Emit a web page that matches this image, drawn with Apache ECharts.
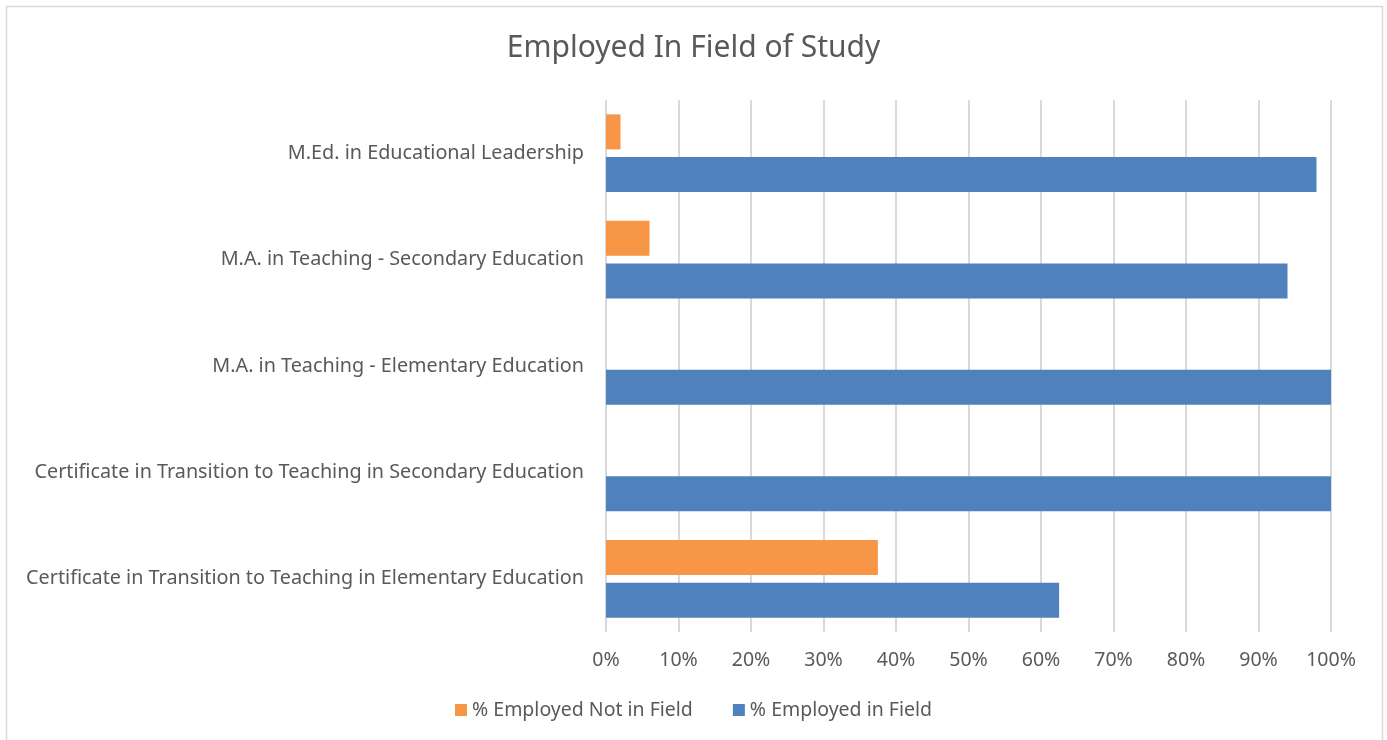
<!DOCTYPE html>
<html><head><meta charset="utf-8">
<script src="https://cdn.jsdelivr.net/npm/echarts@6/dist/echarts.min.js"></script>
<style>html,body{margin:0;padding:0;background:#fff}#c{width:1387px;height:740px}</style>
</head><body><div id="c"></div>
<script>
const categories = [
  'Certificate in Transition to Teaching in Elementary Education',
  'Certificate in Transition to Teaching in Secondary Education',
  'M.A. in Teaching - Elementary Education',
  'M.A. in Teaching - Secondary Education',
  'M.Ed. in Educational Leadership'
];
const employedInField = [62.5, 100, 100, 94, 98];
const employedNotInField = [37.5, 0, 0, 6, 2];
const seriesNames = ['% Employed Not in Field', '% Employed in Field'];

const font = 'Noto Sans';
const txt = '#595959';
const chart = echarts.init(document.getElementById('c'));
chart.setOption({
  animation: false,
  title: { text: 'Employed In Field of Study', left: 'center', top: 28,
    textStyle: { fontFamily: font, fontSize: 30, fontWeight: 'normal', color: txt } },
  graphic: [{ type: 'rect', shape: { x: 6.5, y: 6.5, width: 1376, height: 740 },
    style: { fill: 'none', stroke: '#d9d9d9', lineWidth: 1.5 } }],
  legend: { bottom: 15, left: 'center', itemWidth: 12, itemHeight: 12, itemGap: 40,
    icon: 'rect', data: seriesNames,
    textStyle: { fontFamily: font, fontSize: 19.5, color: txt } },
  grid: { left: 606, right: 56, top: 100, bottom: 108, containLabel: false },
  xAxis: { type: 'value', min: 0, max: 100, interval: 10,
    axisLabel: { formatter: '{value}%', fontFamily: font, fontSize: 19.5, color: txt, margin: 18 },
    splitLine: { lineStyle: { color: '#d9d9d9', width: 2 } },
    axisLine: { show: false }, axisTick: { show: false } },
  yAxis: { type: 'category', data: categories,
    axisLabel: { fontFamily: font, fontSize: 19.8, color: txt, margin: 22 },
    axisLine: { show: false }, axisTick: { show: false } },
  series: [
    { name: seriesNames[0], type: 'bar', data: employedNotInField, barWidth: 35, barGap: '22%',
      itemStyle: { color: '#F79646' } },
    { name: seriesNames[1], type: 'bar', data: employedInField, barWidth: 35, barGap: '22%',
      itemStyle: { color: '#4F81BD' } }
  ]
});
</script></body></html>
